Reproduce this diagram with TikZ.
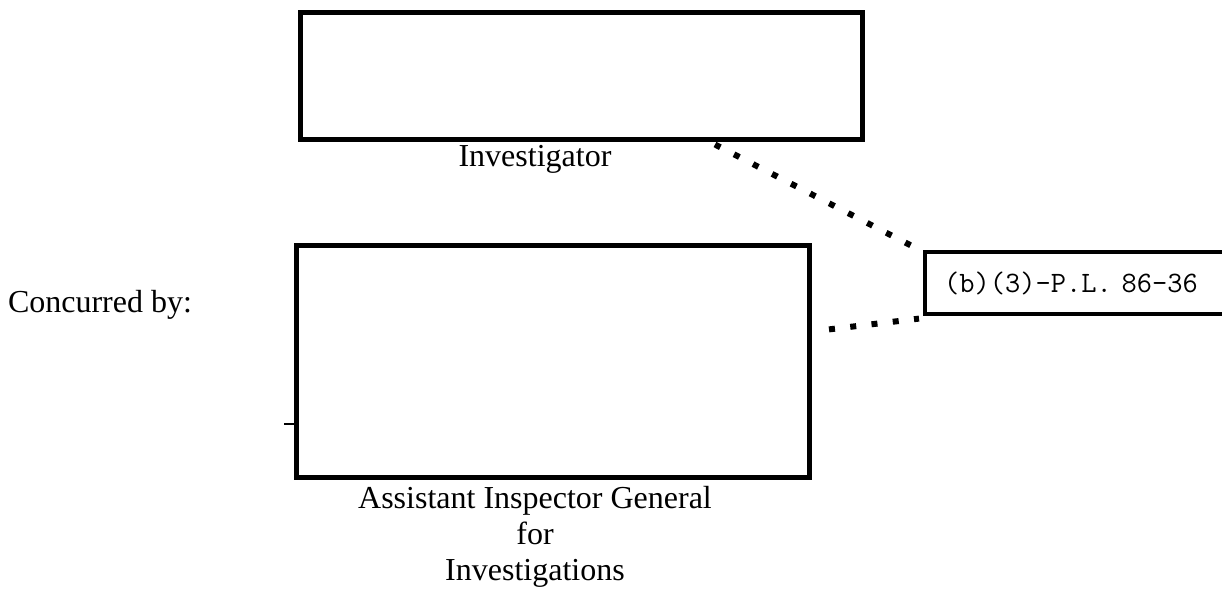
\documentclass[tikz,border=0pt]{standalone}
\usepackage{fontspec}
\setmainfont{Liberation Serif}
\usetikzlibrary{calc}

\begin{document}
\begin{tikzpicture}[x=0.5pt,y=-0.5pt]
\useasboundingbox (0,0) rectangle (1222,589);
\tikzset{
  sigbox/.style={draw=black, line width=2.2pt, inner sep=0pt},
  sigtext/.style={font=\fontsize{16}{18}\selectfont, align=center, anchor=base},
  dotline/.style={line width=3pt, dash pattern=on 3pt off 7.7pt},
}

% signature boxes
\node[sigbox, minimum width=281pt, minimum height=63.5pt] (invbox) at (581.5,76) {};
\node[sigbox, minimum width=256.5pt, minimum height=116pt] (aigbox) at (553,361.5) {};

% exemption label (runs off the page)
\node[sigbox, anchor=west, minimum height=31pt, text width=150pt, inner xsep=9.5pt,
      font=\ttfamily\fontsize{14.8}{16}\selectfont] (exbox) at (923,283) {(b)(3)-P.L. 86-36};

% texts
\node[sigtext] (invlabel) at (535,166) {Investigator};
\node[sigtext] (concur) at (100,312) {Concurred by:};
\node[sigtext] (aiglabel) at (535,580) {Assistant Inspector General\\for\\Investigations};

% dotted leaders
\coordinate (invdot) at (715,144.5);
\coordinate (exnw) at (911,245.5);
\coordinate (aigdot) at (829,329.4);
\coordinate (exsw) at (919,318.6);
\draw[dotline] (invdot) -- (exnw);
\draw[dotline] (aigdot) -- (exsw);

% small tick left of the lower box
\coordinate (tick) at (284,424);
\draw[line width=0.8pt] (tick) -- (tick -| aigbox.west);
\end{tikzpicture}
\end{document}
